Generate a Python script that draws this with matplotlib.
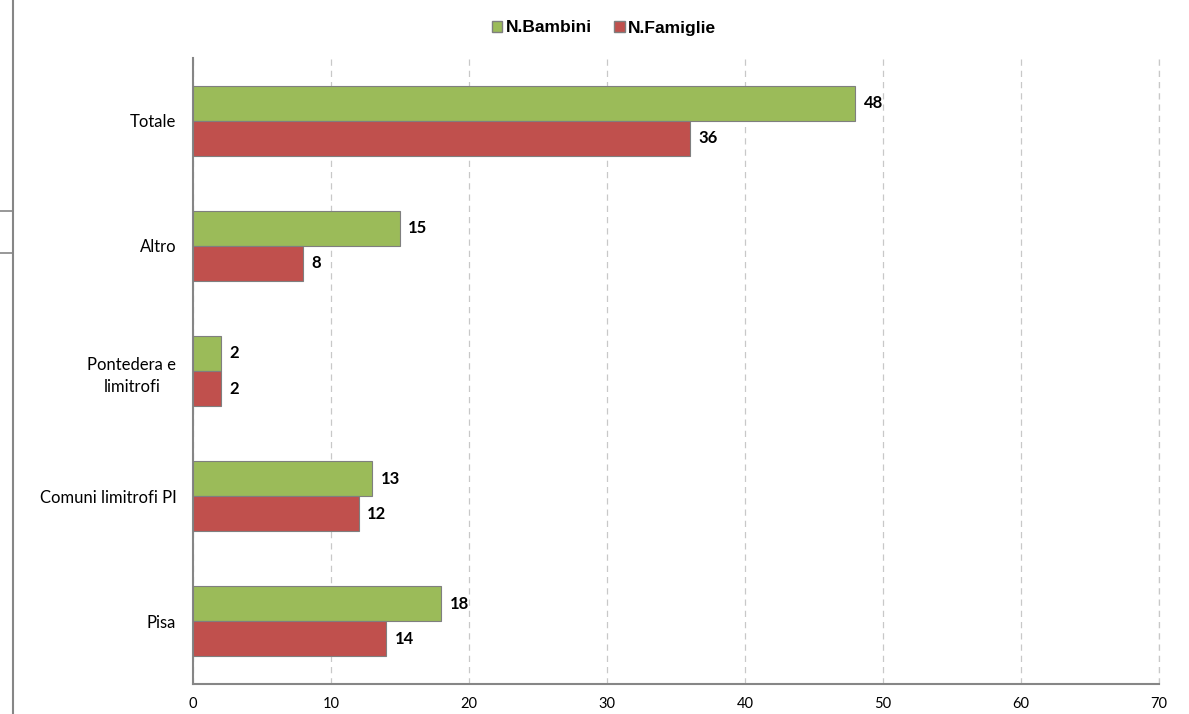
import matplotlib
matplotlib.use("Agg")
import matplotlib.pyplot as plt
from matplotlib.lines import Line2D
from matplotlib.patches import Patch
import numpy as np

categories = ["Pisa", "Comuni limitrofi PI", "Pontedera e\nlimitrofi", "Altro", "Totale"]
bambini = [18, 13, 2, 15, 48]
famiglie = [14, 12, 2, 8, 36]
series_names = ["N.Bambini", "N.Famiglie"]
xticks = [0, 10, 20, 30, 40, 50, 60, 70]

green = "#9BBB59"
red = "#C0504D"

fig = plt.figure(figsize=(11.89, 7.14), dpi=100)
ax = fig.add_axes([193/1189, 1 - 684/714, (1159-193)/1189, (684-58)/714])

y = np.arange(len(categories))
h = 0.28
ax.barh(y + h/2, bambini, height=h, color=green, edgecolor="#7F7F7F", linewidth=0.8, zorder=3)
ax.barh(y - h/2, famiglie, height=h, color=red, edgecolor="#7F7F7F", linewidth=0.8, zorder=3)

lab_font = dict(family=["Lato", "DejaVu Sans"], fontsize=12, fontweight="bold")
for yy, v in zip(y + h/2, bambini):
    ax.text(v + 0.6, yy, str(v), va="center", ha="left", **lab_font)
for yy, v in zip(y - h/2, famiglie):
    ax.text(v + 0.6, yy, str(v), va="center", ha="left", **lab_font)

ax.set_xlim(0, 70)
ax.set_ylim(-0.5, 4.5)
ax.set_xticks(xticks)
ax.set_xticklabels([str(t) for t in xticks], family=["Lato", "DejaVu Sans"], fontsize=10.5)
ax.set_yticks(y)
ax.set_yticklabels(categories, family=["Lato", "DejaVu Sans"], fontsize=12, linespacing=1.5,
                   multialignment="center")
ax.tick_params(axis="x", length=0, pad=9)
ax.tick_params(axis="y", length=0, pad=12)
ax.xaxis.grid(True, linestyle=(0, (5, 4)), color="#C8C8C8", linewidth=0.9, zorder=0)
ax.axvline(70, linestyle=(0, (5, 4)), color="#C8C8C8", linewidth=0.9, zorder=0, clip_on=False)
for s in ["top", "right"]:
    ax.spines[s].set_visible(False)
for s in ["left", "bottom"]:
    ax.spines[s].set_color("#868686")
    ax.spines[s].set_linewidth(1.5)

handles = [Patch(facecolor=green, edgecolor="#7F7F7F"), Patch(facecolor=red, edgecolor="#7F7F7F")]
fig.legend(handles, series_names, loc="center", bbox_to_anchor=(604/1189, 1 - 28/714), ncol=2,
           frameon=False, prop=dict(family=["Liberation Sans", "DejaVu Sans"], weight="bold", size=12.5),
           handlelength=0.6, handleheight=0.6, handletextpad=0.2, columnspacing=1.3)

# left-side artifact lines
fig.add_artist(Line2D([13/1189, 13/1189], [0, 1], color="#868686", linewidth=1.5))
fig.add_artist(Line2D([0, 13/1189], [1 - 211/714, 1 - 211/714], color="#868686", linewidth=1.2))
fig.add_artist(Line2D([0, 13/1189], [1 - 253/714, 1 - 253/714], color="#868686", linewidth=1.2))

fig.savefig("out.png", dpi=100)
